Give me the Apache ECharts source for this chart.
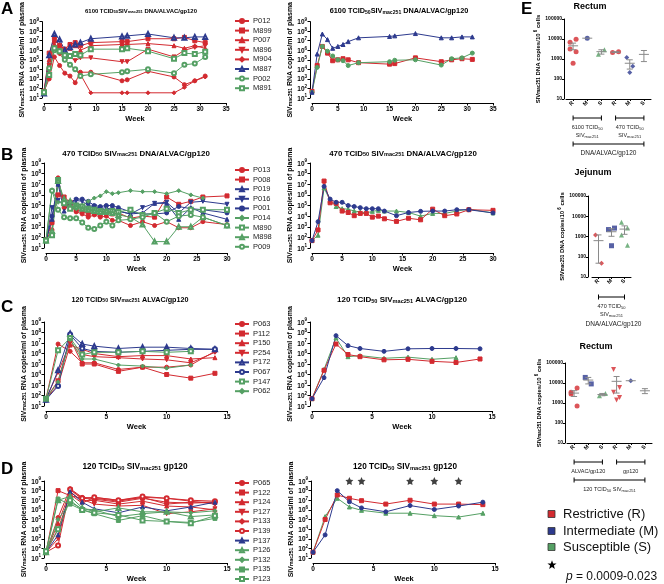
<!DOCTYPE html>
<html><head><meta charset="utf-8">
<script src="https://cdn.jsdelivr.net/npm/echarts@6/dist/echarts.min.js"></script>
<style>html,body{margin:0;padding:0;background:#fff}#c{width:664px;height:584px}</style>
</head><body><div id="c"></div>
<script>
// ================= DATA =================
// Panel A: 6100 TCID50 (weeks)
const weeksA = [0,1,2,3,4,5,6,7,9,15,16,20,25,27,29,31];
const A_P012 = [50,1000,2e5,2.5e4,4000,2000,400,5000,5000,630,800,6300,1600,250,630,2000];
const A_M899 = [50,5e5,2e7,3e6,1.3e6,4e6,6.3e6,3e6,6.3e6,8e6,8e6,1.6e7,1.6e7,2.2e7,1e7,6.3e6];
const A_P007 = [50,1e5,1e7,4e6,1e6,1.6e6,3e6,1e6,3e6,4e6,4e6,5e6,3e6,1.6e6,3e6,1.6e6];
const A_M896 = [50,2.5e4,6.3e6,1e6,2e5,2e5,8e4,1.6e5,1.6e5,6.3e4,6.3e4,1.3e6,2e5,1e6,2e6,3e6];
const A_M904 = [50,3000,3e6,4e5,1e5,3e4,1e4,3000,35,35,35,35,35,130,630,1600];
const A_M887 = [30,3e5,5e7,1.3e7,1e6,2e6,4e6,6.3e6,1.6e7,2.8e7,3.2e7,5e7,2e7,2e7,2.5e7,2.5e7];
const A_P002 = [40,1.3e4,1e6,8e5,1e5,3e4,1e4,2000,3000,5000,6300,1e4,4000,3e4,4e4,2e5];
const A_M891 = [40,2500,1.6e6,8e5,3e5,2.5e5,4e5,3e5,1.3e6,1.3e6,1.6e6,8e5,1.3e5,5e5,4e5,7e5];
const A_meanR = [50,2.5e4,2.5e6,5e5,8e4,1e5,1.3e5,1e5,5e4,3.5e4,4e4,1.6e5,6.3e4,1e5,1.3e5,1.1e5];
const A_meanM = [40,4e5,5e7,1.3e7,1.6e6,2.5e6,4e6,8e6,2e7,2.8e7,3.2e7,5.6e7,2e7,2e7,2.5e7,2.5e7];
const A_meanS = [40,1.6e4,2.5e6,8e5,2.5e5,1e5,8e4,2.5e4,5e4,6.3e4,9e4,1e5,2.8e4,1.3e5,1.6e5,5e5];

// Panel B: 470 TCID50
const weeksB = [0,1,2,3,4,5,6,7,8,9,10,11,12,14,16,18,20,22,24,26,30];
const B_P013 = [63,500,4e7,6.3e4,1.3e5,2.5e4,1.6e4,8000,1.3e4,8000,1e4,4000,4000,1300,3000,1300,3000,800,800,3000,1600];
const B_P008 = [50,2500,1e6,6.3e5,2e5,4e4,3e4,1.6e4,2e4,1.6e4,2.5e4,1.6e4,2e4,6300,1e4,8000,6.3e5,1.3e5,2.5e5,6.3e5,8e5];
const B_P019 = [50,5000,1e7,3e4,2e5,1.6e5,1e5,8e4,6.3e4,4e4,4e4,5e4,3e4,1.6e4,2e4,1.6e5,1.6e5,5000,6.3e4,2e4,5000];
const B_P016 = [50,6.3e4,3e5,1.3e5,1.6e5,3e5,2.5e5,1e5,8e4,5e4,6.3e4,4e4,3e4,1.6e4,6.3e4,1.6e5,2e5,2e4,2e5,2.5e5,1.3e5];
const B_P001 = [50,1e4,1.3e7,2e5,2e5,4e5,4e5,2.5e5,1e5,8e4,1e5,1e5,6.3e4,2.5e4,1.6e4,1.6e4,2e4,8e4,5e4,4e4,2e4];
const B_P014 = [50,3e6,2e5,1.6e5,1e5,5e4,1e5,2.5e5,5e5,8e5,2e6,1.3e6,1.6e6,2.5e6,2e6,2e6,1.3e6,2.5e6,1e6,5e5,null];
const B_M890 = [50,160,2.5e7,1.6e5,5e4,1e5,8e4,5e4,4e4,3e4,2.5e4,3e4,2.5e4,4e4,1.3e4,2e4,5e4,2e4,4e4,4e4,4e4];
const B_M898 = [50,400,2e7,4e5,2.5e5,8e4,5e4,4e4,3e4,2.5e4,3e4,2e4,1.3e4,8000,1600,40,40,1000,1000,8000,1300];
const B_P009 = [50,2.5e6,4e4,8000,6300,6300,2500,800,630,1300,3000,1300,4000,5000,8000,2e4,3000,1e4,1.3e4,8000,1300];
const B_meanR = [50,500,2e7,1.8e5,1.6e5,3e4,2.2e4,1.1e4,1.8e4,1.8e4,8000,1e4,5600,3200,6300,4500,4.5e4,1.1e4,1.6e4,4e4,3.5e4];
const B_meanM = [50,3000,6.3e6,4e5,2e5,2e5,1e5,8e4,6.3e4,5e4,5e4,5e4,3e4,1.1e4,2.2e4,2.8e4,3e4,3e4,4e4,4e4,2e4];
const B_meanS = [50,160,4.5e6,3e5,8e4,5e4,4.5e4,3e4,2.5e4,2e4,2.8e4,3.5e4,3e4,3e4,2.2e4,1e4,1.8e4,1.8e4,3e4,4.5e4,2e4];

// Panel C: 120 TCID50 ALVAC/gp120
const weeksC = [0,1,2,3,4,6,8,10,12,14];
const C_P063 = [50,8e6,1.6e6,1.3e5,1.3e5,3e4,5e4,5e4,8e4,1.6e6];
const C_P112 = [50,2500,2.5e7,1e5,1e5,2e4,5e4,1e4,4500,1.3e4];
const C_P150 = [50,1000,6.3e6,2.5e6,1e6,5e5,6.3e5,6.3e5,3e5,4e5];
const C_P254 = [50,1.6e4,1e7,8e5,5e5,4e5,3e5,2.5e5,1.3e5,1.3e6];
const C_P172 = [40,2.5e4,8e7,8e6,5e6,3e6,4e6,4e6,3e6,2.5e6];
const C_P067 = [40,800,6.3e7,3e6,1.6e6,1.3e6,1.6e6,2e6,2.5e6,2.5e6];
const C_P147 = [50,2e6,3e7,8e5,1.3e6,1.3e6,1.6e6,1.3e6,1.6e6,null];
const C_P062 = [50,2000,2e7,3e5,3e5,8e4,6.3e4,4e4,8e4,null];
const C_meanR = [50,2.5e4,8e6,8e5,5e5,2.5e5,2.8e5,1.8e5,1.4e5,3e5];
const C_meanM = [50,5000,5e7,5.6e6,3e6,1.6e6,2.8e6,3e6,3e6,2.8e6];
const C_meanS = [50,3e4,3e7,5e5,6.3e5,3.5e5,4.5e5,2.8e5,4e5,null];

// Panel D: 120 TCID50 gp120
const weeksD = [0,1,2,3,4,6,8,10,12,14];
const D_P065 = [40,1.6e5,1.6e8,2e7,1.6e7,8e6,2e7,4e6,6.3e6,6.3e6];
const D_P122 = [40,1e8,3e7,1.6e7,1.3e7,6.3e6,1.6e7,6.3e6,5e6,6.3e6];
const D_P124 = [40,4e4,8e7,8e6,1e7,4e6,8e6,2.5e6,2e6,1e6];
const D_P127 = [40,1000,1.3e8,1.3e7,4e6,2.5e6,3e6,4e5,6.3e5,1.3e6];
const D_P133 = [40,1e4,4e7,5e6,2e7,1e7,2e7,1.6e7,8e6,4e6];
const D_P139 = [40,200,1.3e8,1.6e7,2e7,1e7,2.5e7,1.6e7,1e7,8e6];
const D_P137 = [40,2500,8e7,6.3e6,1.3e6,5e5,2e6,8e5,2e6,6.3e6];
const D_P126 = [40,1e7,2.5e7,1.6e6,6.3e5,1.6e6,6.3e5,6.3e5,2e5,3e5];
const D_P132 = [40,1e5,6.3e6,1.3e6,1e6,2e5,4e5,6.3e5,5e5,8e5];
const D_P135 = [50,1.3e7,4e6,1e6,4e5,8e4,2.5e5,6.3e4,5e4,1.3e5];
const D_P123 = [50,1e4,1e7,1e6,5e5,3e5,8e4,6.3e4,4e4,2.5e5];
const D_meanR = [40,1e5,3.5e7,1.6e7,9e6,4e6,1e7,4e6,4e6,3.5e6];
const D_meanM = [40,2500,1e8,7e6,1.6e6,6.3e5,2.8e6,1.1e6,2.5e6,6.3e6];
const D_meanS = [40,2e5,1.6e7,2e6,9e5,4.5e5,4.5e5,2.5e5,1.8e5,4.5e5];
const D_sigWeeks = [3,4,8,10,12];
const D_sigLevel = 1e9;

// Panel E: proviral DNA
const E_cats6 = ['R','M','S','R','M','S'];
const E_cats3 = ['R','M','S'];
const E1_R1 = [6900,9800,3200,2300,620];
const E1_M1 = [11000];
const E1_S1 = [1750,2900];
const E1_R2 = [2100,2300];
const E1_M2 = [1200,430,210];
const E1_S2 = [5500,1100,900,750,260];
const E2_R = [1200,48];
const E2_M = [2200,2600,350];
const E2_S = [5100,2600,1200,370];
const E3_R1 = [3400,5600,2800,700];
const E3_M1 = [19000,9000];
const E3_S1 = [2300,3000];
const E3_R2 = [48000,6000,3400,1900,1400];
const E3_M2 = [13000];
const E3_S2 = [8300,4500,3000,2700,1900];

// ================= STYLE / BUILD =================
const FONT = 'Liberation Sans';
const RED = '#d32a30', BLUE = '#2d3a8e', GREEN = '#55a064';
const STAR = 'path://M0,-10 L2.94,-4.05 9.51,-3.09 4.76,1.55 5.88,8.09 0,5 -5.88,8.09 -4.76,1.55 -9.51,-3.09 -2.94,-4.05 Z';

const grids = [], xAxes = [], yAxes = [], series = [], legends = [];

function richSet(big, small, color, weight) {
  const c = color || '#000', w = weight || 'bold';
  return {
    t:{fontSize:big,fontWeight:w,fontFamily:FONT,color:c,fill:c,lineHeight:big+2,verticalAlign:'bottom'},
    s:{fontSize:small,fontWeight:w,fontFamily:FONT,color:c,fill:c,lineHeight:small,verticalAlign:'bottom'},
    p:{fontSize:small,fontWeight:w,fontFamily:FONT,color:c,fill:c,lineHeight:small,verticalAlign:'top'}
  };
}
const yRich = richSet(6.5, 4.5);
const nameRich = richSet(7, 5);

function linePanel(left, top, width, height, xmax) {
  const gi = grids.length;
  grids.push({left, top, width, height});
  xAxes.push({gridIndex:gi, type:'value', min:0, max:xmax, interval:5, offset:5,
    axisLine:{show:true,onZero:false,lineStyle:{color:'#000',width:1}},
    axisTick:{show:true,length:2.5,lineStyle:{color:'#000'}},
    axisLabel:{fontSize:6.5,fontWeight:'bold',fontFamily:FONT,color:'#000',margin:3},
    splitLine:{show:false},
    name:'Week', nameLocation:'middle', nameGap:12,
    nameTextStyle:{fontSize:7.5,fontWeight:'bold',fontFamily:FONT,color:'#000'}});
  yAxes.push({gridIndex:gi, type:'log', logBase:10, min:10, max:1e9, splitNumber:8, offset:2,
    axisLine:{show:true,onZero:false,lineStyle:{color:'#000',width:1}},
    axisTick:{show:true,length:2.5,lineStyle:{color:'#000'}},
    axisLabel:{margin:3, formatter:v=>'{t|10}{p|'+Math.round(Math.log10(v))+'}', rich:yRich},
    splitLine:{show:false},
    name:'{t|SIV}{s|mac251}{t| RNA copies/ml of plasma}', nameLocation:'middle', nameRotate:90, nameGap:14,
    nameTextStyle:{rich:nameRich}});
  return gi;
}

function addLine(gi, name, weeks, vals, color, sym, rot) {
  const data = [];
  weeks.forEach((w,i)=>{ if (vals[i] != null) data.push([w, vals[i]]); });
  series.push({type:'line', name, xAxisIndex:gi, yAxisIndex:gi, data,
    symbol:sym, symbolSize:4, symbolRotate:rot||0, showAllSymbol:true,
    itemStyle:{color, borderColor:color, borderWidth:1},
    lineStyle:{color, width:1}, emphasis:{disabled:true}, silent:true, z:3});
}

function addLegend(names, left, top) {
  legends.push({data:names, orient:'vertical', left, top, height:130, padding:0,
    itemWidth:14, itemHeight:5, itemGap:1.6, selectedMode:false,
    textStyle:{fontSize:7.5,fontFamily:FONT,color:'#222',lineHeight:7,padding:[0,0,0,-1]}});
}

// ---- A ----
let g = linePanel(44, 16, 182, 82, 35);
addLine(g,'P012',weeksA,A_P012,RED,'circle');
addLine(g,'M899',weeksA,A_M899,RED,'rect');
addLine(g,'P007',weeksA,A_P007,RED,'triangle');
addLine(g,'M896',weeksA,A_M896,RED,'triangle',180);
addLine(g,'M904',weeksA,A_M904,RED,'diamond');
addLine(g,'M887',weeksA,A_M887,BLUE,'emptyTriangle');
addLine(g,'P002',weeksA,A_P002,GREEN,'emptyCircle');
addLine(g,'M891',weeksA,A_M891,GREEN,'emptyRect');
addLegend(['P012','M899','P007','M896','M904','M887','P002','M891'], 234, 17);
g = linePanel(312, 16, 181, 82, 35);
addLine(g,'A mean R',weeksA,A_meanR,RED,'rect');
addLine(g,'A mean S',weeksA,A_meanS,GREEN,'circle');
addLine(g,'A mean M',weeksA,A_meanM,BLUE,'triangle');

// ---- B ----
g = linePanel(46, 163, 181, 85, 30);
addLine(g,'P013',weeksB,B_P013,RED,'circle');
addLine(g,'P008',weeksB,B_P008,RED,'rect');
addLine(g,'P019',weeksB,B_P019,BLUE,'triangle');
addLine(g,'P016',weeksB,B_P016,BLUE,'triangle',180);
addLine(g,'P001',weeksB,B_P001,BLUE,'circle');
addLine(g,'P014',weeksB,B_P014,GREEN,'diamond');
addLine(g,'M890',weeksB,B_M890,GREEN,'emptyRect');
addLine(g,'M898',weeksB,B_M898,GREEN,'emptyTriangle');
addLine(g,'P009',weeksB,B_P009,GREEN,'emptyCircle');
addLegend(['P013','P008','P019','P016','P001','P014','M890','M898','P009'], 234, 166);
g = linePanel(312, 163, 181, 85, 30);
addLine(g,'B mean S',weeksB,B_meanS,GREEN,'triangle');
addLine(g,'B mean R',weeksB,B_meanR,RED,'rect');
addLine(g,'B mean M',weeksB,B_meanM,BLUE,'circle');

// ---- C ----
g = linePanel(46, 322, 181, 84, 15);
addLine(g,'P063',weeksC,C_P063,RED,'circle');
addLine(g,'P112',weeksC,C_P112,RED,'rect');
addLine(g,'P150',weeksC,C_P150,RED,'triangle');
addLine(g,'P254',weeksC,C_P254,RED,'triangle',180);
addLine(g,'P172',weeksC,C_P172,BLUE,'emptyTriangle');
addLine(g,'P067',weeksC,C_P067,BLUE,'emptyCircle');
addLine(g,'P147',weeksC,C_P147,GREEN,'emptyRect');
addLine(g,'P062',weeksC,C_P062,GREEN,'diamond');
addLegend(['P063','P112','P150','P254','P172','P067','P147','P062'], 234, 320);
g = linePanel(312, 322, 180, 84, 15);
addLine(g,'C mean S',weeksC,C_meanS,GREEN,'triangle');
addLine(g,'C mean R',weeksC,C_meanR,RED,'rect');
addLine(g,'C mean M',weeksC,C_meanM,BLUE,'circle');

// ---- D ----
g = linePanel(46, 481, 181, 83, 15);
addLine(g,'P065',weeksD,D_P065,RED,'circle');
addLine(g,'P122',weeksD,D_P122,RED,'rect');
addLine(g,'P124',weeksD,D_P124,RED,'triangle');
addLine(g,'P127',weeksD,D_P127,RED,'triangle',180);
addLine(g,'P133',weeksD,D_P133,RED,'diamond');
addLine(g,'P139',weeksD,D_P139,RED,'emptyCircle');
addLine(g,'P137',weeksD,D_P137,BLUE,'triangle');
addLine(g,'P126',weeksD,D_P126,GREEN,'emptyTriangle');
addLine(g,'P132',weeksD,D_P132,GREEN,'diamond');
addLine(g,'P135',weeksD,D_P135,GREEN,'rect');
addLine(g,'P123',weeksD,D_P123,GREEN,'emptyRect');
addLegend(['P065','P122','P124','P127','P133','P139','P137','P126','P132','P135','P123'], 234, 479);
g = linePanel(313, 481, 182, 83, 15);
addLine(g,'D mean S',weeksD,D_meanS,GREEN,'triangle');
addLine(g,'D mean R',weeksD,D_meanR,RED,'rect');
addLine(g,'D mean M',weeksD,D_meanM,BLUE,'circle');
series.push({type:'scatter', name:'sig', xAxisIndex:g, yAxisIndex:g,
  data:D_sigWeeks.map(w=>[w, D_sigLevel]), symbol:STAR, symbolSize:8,
  itemStyle:{color:'#111'}, silent:true, clip:false, z:5});

// ---- E ----
const eNameRich = richSet(6, 4.5);
function scatterPanel(left, top, width, height, cats, yOffset) {
  const gi = grids.length;
  grids.push({left, top, width, height});
  xAxes.push({gridIndex:gi, type:'category', data:cats.map((c,i)=>c+i), boundaryGap:true,
    axisLine:{show:true,onZero:false,lineStyle:{color:'#000',width:1}},
    axisTick:{show:true,alignWithLabel:true,interval:0,length:2,lineStyle:{color:'#000'}},
    axisLabel:{interval:0,rotate:45,fontSize:5.5,fontWeight:'bold',fontFamily:FONT,color:'#000',margin:3,
      formatter:v=>v.charAt(0)},
    splitLine:{show:false}});
  yAxes.push({gridIndex:gi, type:'log', logBase:10, min:10, max:1e5, offset:yOffset,
    axisLine:{show:true,onZero:false,lineStyle:{color:'#000',width:1}},
    axisTick:{show:true,length:2,lineStyle:{color:'#000'}},
    axisLabel:{fontSize:5,fontWeight:'bold',fontFamily:FONT,color:'#000',margin:2,formatter:v=>String(Math.round(v))},
    splitLine:{show:false},
    name:'{t|SIV}{s|mac251}{t| DNA copies/10}{p| 6}{t| cells}', nameLocation:'middle', nameRotate:90, nameGap:22,
    nameTextStyle:{rich:eNameRich}});
  return gi;
}
function meanSem(vals){
  const n = vals.length, m = vals.reduce((a,b)=>a+b,0)/n;
  let sem = 0;
  if (n>1){ const sd = Math.sqrt(vals.reduce((a,b)=>a+(b-m)*(b-m),0)/(n-1)); sem = sd/Math.sqrt(n); }
  return [m, Math.max(m-sem, 10), m+sem];
}
function addGroups(gi, groups){
  const msData = [];
  groups.forEach((gr, idx)=>{
    const n = gr.vals.length;
    const data = gr.vals.map((v,i)=>{
      let off = 0;
      if (n>1){ off = (i%2===0 ? -3 : 3); if (n%2===1 && i===n-1) off = 0; }
      return {value:[idx, v], symbolOffset:[off,0]};
    });
    series.push({type:'scatter', name:'E'+gi+'_'+idx, xAxisIndex:gi, yAxisIndex:gi, data,
      symbol:gr.sym, symbolSize:5, symbolRotate:gr.rot||0,
      itemStyle:{color:gr.sym.indexOf('empty')===0?'#fff':gr.color, borderColor:gr.color, borderWidth:gr.sym.indexOf('empty')===0?1:0},
      silent:true, z:3});
    const ms = meanSem(gr.vals);
    msData.push([idx, ms[0], ms[1], ms[2]]);
  });
  series.push({type:'custom', name:'E'+gi+'_ms', xAxisIndex:gi, yAxisIndex:gi, data:msData, silent:true, z:4,
    encode:{x:0,y:1},
    renderItem:(params, api)=>{
      const x = api.value(0), m = api.value(1), lo = api.value(2), hi = api.value(3);
      const pm = api.coord([x,m]), plo = api.coord([x,lo]), phi = api.coord([x,hi]);
      const st = {stroke:'#8a8a8a', lineWidth:1};
      const ch = [{type:'line', shape:{x1:pm[0]-5,y1:pm[1],x2:pm[0]+5,y2:pm[1]}, style:st}];
      if (phi[1] < plo[1] - 0.5){
        ch.push({type:'line', shape:{x1:pm[0],y1:phi[1],x2:pm[0],y2:plo[1]}, style:st});
        ch.push({type:'line', shape:{x1:pm[0]-3,y1:phi[1],x2:pm[0]+3,y2:phi[1]}, style:st});
        ch.push({type:'line', shape:{x1:pm[0]-3,y1:plo[1],x2:pm[0]+3,y2:plo[1]}, style:st});
      }
      return {type:'group', children:ch};
    }});
}

const gE1 = scatterPanel(566, 19, 85, 80, E_cats6, 2);
addGroups(gE1, [
  {vals:E1_R1, color:RED, sym:'circle'}, {vals:E1_M1, color:BLUE, sym:'circle'}, {vals:E1_S1, color:GREEN, sym:'triangle'},
  {vals:E1_R2, color:RED, sym:'circle'}, {vals:E1_M2, color:BLUE, sym:'diamond'}, {vals:E1_S2, color:GREEN, sym:'emptyCircle'}]);
const gE2 = scatterPanel(592, 196, 39, 81, E_cats3, 4);
addGroups(gE2, [
  {vals:E2_R, color:RED, sym:'diamond'}, {vals:E2_M, color:BLUE, sym:'rect'}, {vals:E2_S, color:GREEN, sym:'triangle'}]);
const gE3 = scatterPanel(567, 363, 85, 80, E_cats6, 2);
addGroups(gE3, [
  {vals:E3_R1, color:RED, sym:'circle'}, {vals:E3_M1, color:BLUE, sym:'rect'}, {vals:E3_S1, color:GREEN, sym:'triangle'},
  {vals:E3_R2, color:RED, sym:'triangle', rot:180}, {vals:E3_M2, color:BLUE, sym:'diamond'}, {vals:E3_S2, color:GREEN, sym:'emptyCircle'}]);

const chart = echarts.init(document.getElementById('c'));
chart.setOption({animation:false, backgroundColor:'#fff', textStyle:{fontFamily:FONT},
  grid:grids, xAxis:xAxes, yAxis:yAxes, series, legend:legends});

// ================= ANNOTATIONS =================
const G = [];
function txt(x, y, text, o){
  G.push({type:'text', x, y, silent:true, style:Object.assign({text, fill:'#000', fontFamily:FONT, align:'center', verticalAlign:'middle'}, o||{})});
}
function title(x, y, parts, size){ txt(x, y, parts, {rich:richSet(size, size*0.7)}); }
const tA = '{t|6100 TCID}{s|50}{t|SIV}{s|mac251}{t| DNA/ALVAC/gp120}';
const tB = '{t|470 TCID}{s|50}{t| SIV}{s|mac251}{t| DNA/ALVAC/gp120}';
const tC = '{t|120 TCID}{s|50}{t| SIV}{s|mac251}{t| ALVAC/gp120}';
const tD = '{t|120 TCID}{s|50}{t| SIV}{s|mac251}{t| gp120}';
title(141, 10, tA, 5.9); title(399, 10, tA, 7.3);
title(136, 153, tB, 7.9); title(403, 153, tB, 7.9);
title(130, 299, tC, 7.2); title(402, 299, tC, 8);
title(135, 466, tD, 8.3); title(405, 466, tD, 8.2);
const L = {fontSize:17, fontWeight:'bold', align:'left'};
txt(1, 9, 'A', L); txt(1, 155, 'B', L); txt(1, 307, 'C', L); txt(1, 469, 'D', L); txt(521, 9, 'E', L);
const H = {fontSize:9, fontWeight:'bold'};
txt(590, 7, 'Rectum', H); txt(593, 173, 'Jejunum', H); txt(596, 347, 'Rectum', H);

function xp(gi, idx, fallback){
  const v = chart.convertToPixel({xAxisIndex:gi}, idx);
  return (typeof v === 'number' && isFinite(v)) ? v : fallback;
}
function bracket(x1, x2, y){
  const st = {stroke:'#000', lineWidth:1};
  G.push({type:'line', silent:true, shape:{x1, y1:y, x2, y2:y}, style:st});
  G.push({type:'line', silent:true, shape:{x1, y1:y-2.5, x2:x1, y2:y+2.5}, style:st});
  G.push({type:'line', silent:true, shape:{x1:x2, y1:y-2.5, x2:x2, y2:y+2.5}, style:st});
}
const sRich = richSet(5.5, 4, '#222', 'normal');
const bandE = 85/6;
// E1
let a0 = xp(gE1,0,566+bandE*0.5), a2 = xp(gE1,2,566+bandE*2.5), a3 = xp(gE1,3,566+bandE*3.5), a5 = xp(gE1,5,566+bandE*5.5);
bracket(a0, a2, 118); bracket(a3, a5, 118);
txt((a0+a2)/2, 127, '{t|6100 TCID}{s|50}', {rich:sRich});
txt((a0+a2)/2, 135, '{t|SIV}{s|mac251}', {rich:sRich});
txt((a3+a5)/2, 127, '{t|470 TCID}{s|50}', {rich:sRich});
txt((a3+a5)/2, 135, '{t|SIV}{s|mac251}', {rich:sRich});
bracket(a0, a5, 144);
txt((a0+a5)/2, 153, 'DNA/ALVAC/gp120', {fontSize:6.5, fill:'#222'});
// E2
let b0 = xp(gE2,0,592+6.5), b2 = xp(gE2,2,592+32.5);
bracket(b0, b2, 297);
txt((b0+b2)/2, 306, '{t|470 TCID}{s|50}', {rich:sRich});
txt((b0+b2)/2, 314, '{t|SIV}{s|mac251}', {rich:sRich});
txt((b0+b2)/2+2, 324, 'DNA/ALVAC/gp120', {fontSize:6.5, fill:'#222'});
// E3
let c0 = xp(gE3,0,567+bandE*0.5), c2 = xp(gE3,2,567+bandE*2.5), c3 = xp(gE3,3,567+bandE*3.5), c5 = xp(gE3,5,567+bandE*5.5);
bracket(c0, c2, 462); bracket(c3, c5, 462);
txt((c0+c2)/2, 471, 'ALVAC/gp120', {fontSize:5.5, fill:'#222'});
txt((c3+c5)/2, 471, 'gp120', {fontSize:5.5, fill:'#222'});
bracket(c0, c5, 480);
txt((c0+c5)/2, 489, '{t|120 TCID}{s|50}{t| SIV}{s|mac251}', {rich:sRich});

// legend of E
const leg = [['Restrictive (R)', RED, 514], ['Intermediate (M)', BLUE, 531], ['Susceptible (S)', GREEN, 547]];
leg.forEach(([t, c, y])=>{
  G.push({type:'rect', silent:true, shape:{x:548, y:y-3.5, width:7, height:7}, style:{fill:c, stroke:'#333', lineWidth:0.8}});
  txt(563, y, t, {fontSize:13, align:'left', fill:'#111'});
});
const starPts = [];
for (let k=0;k<10;k++){
  const r = (k%2===0) ? 4.8 : 2.0, ang = -Math.PI/2 + k*Math.PI/5;
  starPts.push([552 + r*Math.cos(ang), 565 + r*Math.sin(ang)]);
}
G.push({type:'polygon', silent:true, shape:{points:starPts}, style:{fill:'#000'}});
txt(566, 577, '{i|p}{n| = 0.0009-0.023}', {align:'left', rich:{
  i:{fontSize:12,fontStyle:'italic',fontFamily:FONT,fill:'#111',color:'#111'},
  n:{fontSize:12,fontFamily:FONT,fill:'#111',color:'#111'}}});

chart.setOption({graphic:G});
</script></body></html>
